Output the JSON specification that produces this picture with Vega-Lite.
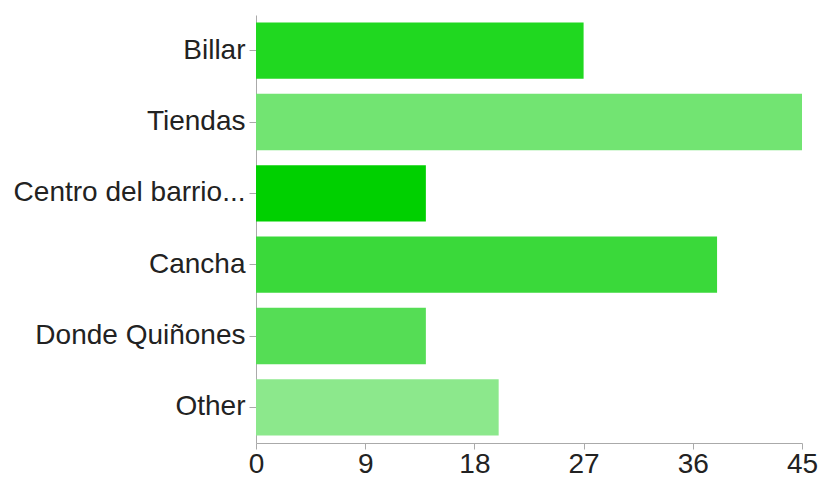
{
  "$schema": "https://vega.github.io/schema/vega-lite/v6.json",
  "autosize": "none",
  "width": 546,
  "height": 428,
  "padding": {"left": 256, "top": 15, "right": 17, "bottom": 35},
  "background": "white",
  "data": {"values": [
    {"lugar": "Billar", "n": 27},
    {"lugar": "Tiendas", "n": 45},
    {"lugar": "Centro del barrio...", "n": 14},
    {"lugar": "Cancha", "n": 38},
    {"lugar": "Donde Quiñones", "n": 14},
    {"lugar": "Other", "n": 20}
  ]},
  "mark": {"type": "bar"},
  "encoding": {
    "y": {"field": "lugar", "type": "nominal", "sort": null,
      "scale": {"paddingInner": 0.21, "paddingOuter": 0.105},
      "axis": {"title": null, "labelFont": "Liberation Sans", "labelFontSize": 28, "labelColor": "#222222", "labelLimit": 300,
        "domainColor": "#aaaaaa", "tickColor": "#aaaaaa", "tickSize": 7, "labelPadding": 4, "domainWidth": 1}},
    "x": {"field": "n", "type": "quantitative",
      "scale": {"domain": [0, 45], "nice": false},
      "axis": {"title": null, "values": [0, 9, 18, 27, 36, 45], "grid": false, "labelFont": "Liberation Sans", "labelFontSize": 28, "labelColor": "#222222",
        "domainColor": "#aaaaaa", "tickColor": "#aaaaaa", "tickSize": 6, "labelPadding": 1, "labelFlush": false}},
    "color": {"field": "lugar", "type": "nominal", "legend": null,
      "scale": {"domain": ["Billar", "Tiendas", "Centro del barrio...", "Cancha", "Donde Quiñones", "Other"],
        "range": ["#20d820", "#72e472", "#00d000", "#3ad93a", "#55dd55", "#8ce88c"]}}
  },
  "config": {"view": {"stroke": null}}
}
